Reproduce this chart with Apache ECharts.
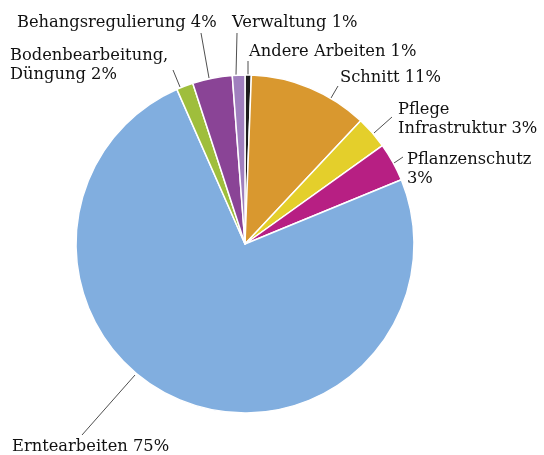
<!DOCTYPE html>
<html>
<head>
<meta charset="utf-8">
<script src="https://cdn.jsdelivr.net/npm/echarts@6/dist/echarts.min.js"></script>
<style>
  html, body { margin: 0; padding: 0; background: #fff; }
  #chart { width: 544px; height: 455px; }
</style>
</head>
<body>
<div id="chart"></div>
<script>
// slices, clockwise from 12 o'clock
const categories = ['Andere Arbeiten', 'Schnitt', 'Pflege\nInfrastruktur', 'Pflanzenschutz\n', 'Erntearbeiten', 'Bodenbearbeitung,\nDüngung', 'Behangsregulierung', 'Verwaltung']
const shares = [0.6, 11.4, 3.1, 3.7, 74.6, 1.6, 3.8, 1.2]
const shareLabels = ['1%', '11%', '3%', '3%', '75%', '2%', '4%', '1%']
const colors = ['#1b1b1b', '#d9982f', '#e4cf2b', '#b71f83', '#81aedf', '#9fbe3c', '#8a4496', '#a07fbe']

// label anchor (left, middle) and leader line ends, per slice
const labelPos = [
  { x: 249, y: 52, line: [[248, 77], [248, 61]] },
  { x: 340, y: 78, line: [[331, 98], [338, 86]] },
  { x: 398, y: 119, line: [[374, 133], [392, 117]] },
  { x: 407, y: 169, line: [[394, 163], [403, 157]] },
  { x: 12, y: 447, line: [[135, 375], [82, 435]] },
  { x: 10, y: 65, line: [[180, 87], [173, 70]] },
  { x: 17, y: 23, line: [[209, 78], [201, 33]] },
  { x: 232, y: 23, line: [[236, 75], [237, 33]] }
]

const chart = echarts.init(document.getElementById('chart'))

const data = categories.map((name, i) => ({
  name: name,
  value: shares[i],
  label: {
    formatter: name.endsWith('\n') ? name + shareLabels[i] : name + ' ' + shareLabels[i]
  },
  itemStyle: { color: colors[i] }
}))

chart.setOption({
  animation: false,
  series: [{
    type: 'pie',
    center: [245, 244],
    radius: [0, 169],
    startAngle: 90,
    clockwise: true,
    avoidLabelOverlap: false,
    itemStyle: {
      borderColor: '#fff',
      borderWidth: 1.5
    },
    label: {
      show: true,
      position: 'outside',
      fontFamily: 'DejaVu Serif',
      fontSize: 16.3,
      lineHeight: 19,
      color: '#111'
    },
    labelLine: {
      show: true,
      lineStyle: { color: '#222', width: 0.8 }
    },
    labelLayout: function (params) {
      const p = labelPos[params.dataIndex]
      return {
        x: p.x,
        y: p.y,
        align: 'left',
        verticalAlign: 'middle',
        labelLinePoints: [p.line[0], p.line[1], p.line[1]]
      }
    },
    data: data
  }]
})
</script>
</body>
</html>
